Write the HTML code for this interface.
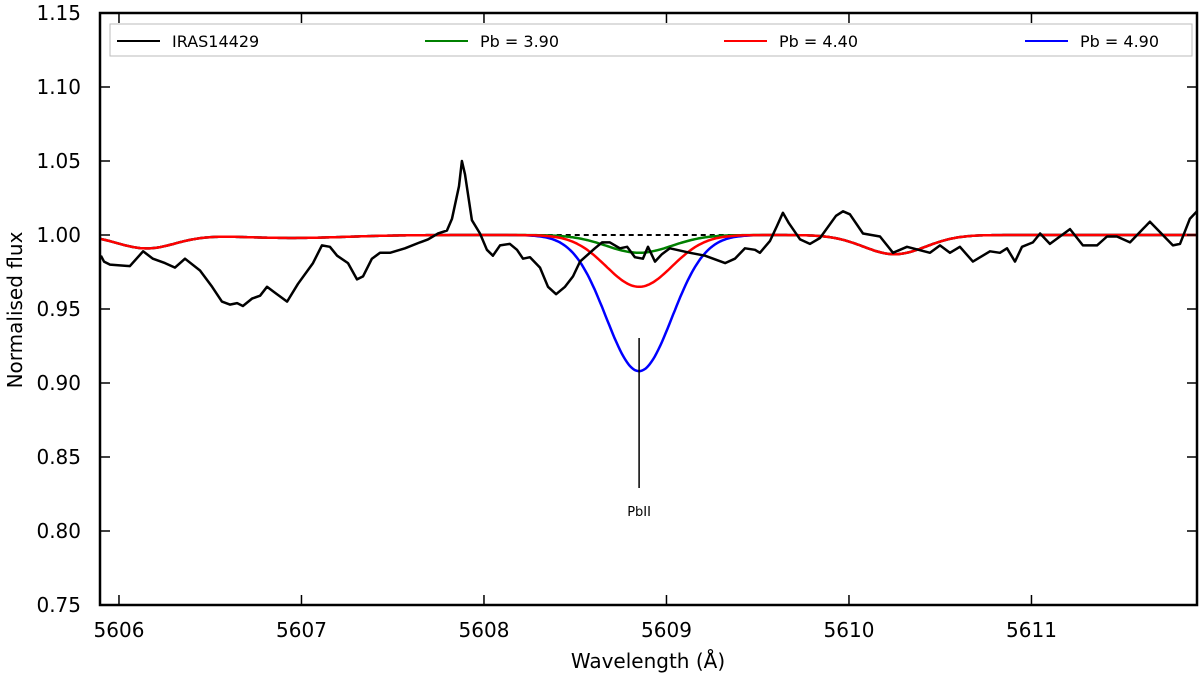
<!DOCTYPE html>
<html><head><meta charset="utf-8"><style>
body{margin:0;background:#fff;}
svg{display:block;font-family:"DejaVu Sans","Liberation Sans",sans-serif;}
</style></head><body>
<svg id="chart" width="1200" height="680" xmlns="http://www.w3.org/2000/svg">
<g id="plot"></g>
</svg>
<script>
const obsWave = [5605.901,5605.918,5605.951,5606.060,5606.132,5606.186,5606.252,5606.307,5606.362,5606.444,5606.510,5606.564,5606.608,5606.647,5606.679,5606.729,5606.773,5606.811,5606.855,5606.921,5606.981,5607.063,5607.112,5607.156,5607.195,5607.255,5607.304,5607.337,5607.386,5607.430,5607.485,5607.567,5607.649,5607.693,5607.748,5607.797,5607.825,5607.863,5607.879,5607.896,5607.934,5607.978,5608.016,5608.049,5608.088,5608.142,5608.181,5608.214,5608.252,5608.307,5608.351,5608.395,5608.444,5608.488,5608.526,5608.608,5608.647,5608.690,5608.745,5608.784,5608.827,5608.871,5608.899,5608.937,5608.975,5609.019,5609.129,5609.211,5609.321,5609.375,5609.430,5609.485,5609.512,5609.567,5609.605,5609.638,5609.671,5609.732,5609.786,5609.841,5609.929,5609.967,5610.005,5610.077,5610.170,5610.241,5610.318,5610.444,5610.499,5610.553,5610.608,5610.679,5610.773,5610.827,5610.866,5610.910,5610.948,5611.008,5611.047,5611.101,5611.211,5611.282,5611.359,5611.414,5611.468,5611.540,5611.649,5611.775,5611.814,5611.868,5611.907];
const obsFlux = [0.986,0.982,0.980,0.979,0.989,0.984,0.981,0.978,0.984,0.976,0.965,0.955,0.953,0.954,0.952,0.957,0.959,0.965,0.961,0.955,0.967,0.981,0.993,0.992,0.986,0.981,0.970,0.972,0.984,0.988,0.988,0.991,0.995,0.997,1.001,1.003,1.011,1.033,1.050,1.041,1.010,1.001,0.990,0.986,0.993,0.994,0.990,0.984,0.985,0.978,0.965,0.960,0.965,0.972,0.982,0.991,0.995,0.995,0.991,0.992,0.985,0.984,0.992,0.982,0.987,0.991,0.988,0.986,0.981,0.984,0.991,0.990,0.988,0.996,1.006,1.015,1.008,0.997,0.994,0.998,1.013,1.016,1.014,1.001,0.999,0.988,0.992,0.988,0.993,0.988,0.992,0.982,0.989,0.988,0.991,0.982,0.992,0.995,1.001,0.994,1.004,0.993,0.993,0.999,0.999,0.995,1.009,0.993,0.994,1.011,1.016];
const blendCenters = [5606.15, 5606.95, 5610.25];
const blendDepths = [0.009, 0.002, 0.013];
const blendSigmas = [0.16, 0.3, 0.17];
const pbCenter = 5608.85;
const pbSigma = 0.18;
const pbLabels = ["Pb = 3.90","Pb = 4.40","Pb = 4.90"];
const pbDepths = [0.012, 0.035, 0.092];
const pbColors = ["#008000","#ff0000","#0000ff"];
const yTicks = [0.75,0.80,0.85,0.90,0.95,1.00,1.05,1.10,1.15];
const xTicks = [5606,5607,5608,5609,5610,5611];

const L=100,R=1197,T=13,B=605;
const xMin=5605.896,xMax=5611.907,yMin=0.75,yMax=1.15;
const X=v=>L+(v-xMin)/(xMax-xMin)*(R-L);
const Y=v=>B-(v-yMin)/(yMax-yMin)*(B-T);
const NS="http://www.w3.org/2000/svg";
const g=document.getElementById('plot');
function mk(tag,attrs,parent){const e=document.createElementNS(NS,tag);for(const k in attrs)e.setAttribute(k,attrs[k]);(parent||g).appendChild(e);return e;}
function model(w,pbD){let f=1;for(let i=0;i<blendCenters.length;i++){f-=blendDepths[i]*Math.exp(-0.5*Math.pow((w-blendCenters[i])/blendSigmas[i],2));}
 f-=pbD*Math.exp(-0.5*Math.pow((w-pbCenter)/pbSigma,2));return f;}

let dl=mk('line',{x1:X(5608.3),x2:X(5609.4),y1:Y(1),y2:Y(1),stroke:'#000','stroke-width':2,'stroke-dasharray':'5,4'});



[2,0,1].forEach(i=>{
 let d='';for(let w=xMin;w<=xMax+1e-9;w+=0.01){d+=(d?'L':'M')+X(w).toFixed(1)+','+Y(model(w,pbDepths[i])).toFixed(1);}
 const p=mk('path',{d:d,fill:'none',stroke:pbColors[i],'stroke-width':2.5});
 
 
});
let od=obsWave.map((w,i)=>(i?'L':'M')+X(w).toFixed(1)+','+Y(obsFlux[i]).toFixed(1)).join('');
const op=mk('path',{d:od,fill:'none',stroke:'#000','stroke-width':2.5,'stroke-linejoin':'round'});



const mkl=mk('line',{x1:X(pbCenter),x2:X(pbCenter),y1:338,y2:488,stroke:'#000','stroke-width':1.5});


const mt=mk('text',{x:X(pbCenter),y:516,'text-anchor':'middle','font-size':13});
mt.textContent='PbII';



const fr=mk('rect',{x:L,y:T,width:R-L,height:B-T,fill:'none',stroke:'#000','stroke-width':2.5});


yTicks.forEach(v=>{
 const y=Y(v);
 const t1=mk('line',{x1:L,x2:L+10,y1:y,y2:y,stroke:'#000','stroke-width':1.5});
 
 
 const t2=mk('line',{x1:R-10,x2:R,y1:y,y2:y,stroke:'#000','stroke-width':1.5});
 
 
 const tx=mk('text',{x:81,y:y+7,'text-anchor':'end','font-size':20});
 tx.textContent=v.toFixed(2);
 
 
});
xTicks.forEach(v=>{
 const x=X(v);
 const t1=mk('line',{x1:x,x2:x,y1:B,y2:B-10,stroke:'#000','stroke-width':1.5});
 
 
 const t2=mk('line',{x1:x,x2:x,y1:T,y2:T+10,stroke:'#000','stroke-width':1.5});
 
 
 const tx=mk('text',{x:x,y:637,'text-anchor':'middle','font-size':20});
 tx.textContent=v;
 
 
});
const xl=mk('text',{x:648,y:668,'text-anchor':'middle','font-size':20});
xl.textContent='Wavelength (Å)';


const yl=mk('text',{x:0,y:0,'text-anchor':'middle','font-size':20,transform:'translate(22,310) rotate(-90)'});
yl.textContent='Normalised flux';



const lg=mk('g',{});


mk('rect',{x:110,y:24,width:1082,height:32,fill:'#fff',stroke:'#bbb','stroke-width':1},lg);
const legNames=["IRAS14429"].concat(pbLabels);
const legColors=["#000"].concat(pbColors);
const legX=[117,425,724,1025];
legNames.forEach((n,i)=>{
 const e=mk('g',{},lg);
 
 
 mk('line',{x1:legX[i],x2:legX[i]+43,y1:41,y2:41,stroke:legColors[i],'stroke-width':2},e);
 const t=mk('text',{x:legX[i]+55,y:47,'font-size':16},e);
 t.textContent=n;
});
</script>
</body></html>
